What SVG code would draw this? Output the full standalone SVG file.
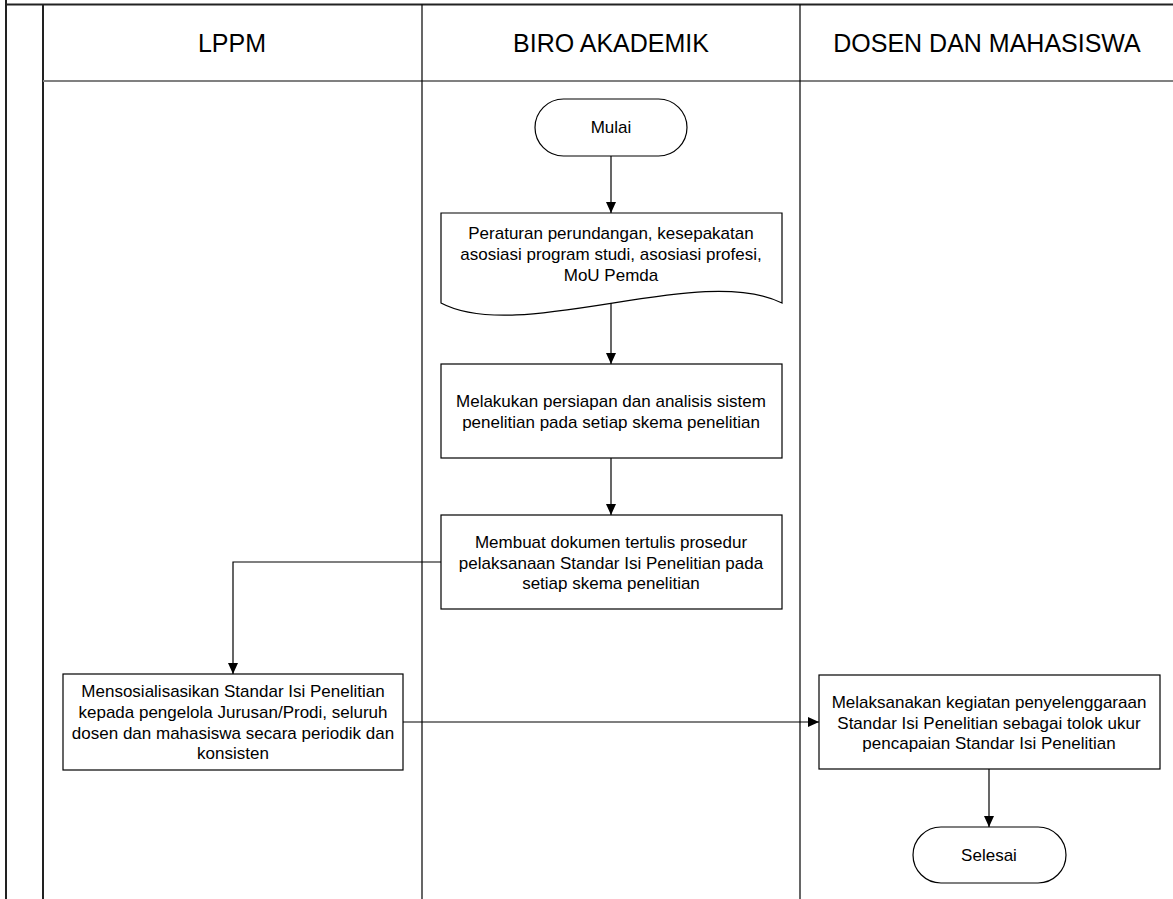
<svg xmlns="http://www.w3.org/2000/svg" width="1173" height="899" viewBox="0 0 1173 899">
<style>
.t{font-family:"Liberation Sans",Arial,sans-serif;font-size:17px;fill:#000;text-anchor:middle}
.h{font-family:"Liberation Sans",Arial,sans-serif;font-size:25px;fill:#000;text-anchor:middle}
.s{fill:#fff;stroke:#000;stroke-width:1.2}
.c{fill:none;stroke:#000;stroke-width:1.2}
</style>
<defs>
<marker id="ah" markerUnits="userSpaceOnUse" markerWidth="11" markerHeight="10" refX="11" refY="5" orient="auto">
<path d="M0,0 L11,5 L0,10 Z" fill="#000"/>
</marker>
</defs>
<rect width="1173" height="899" fill="#fff"/>
<g id="frame">
<line x1="6" y1="4.5" x2="1173" y2="4.5" stroke="#222" stroke-width="2"/>
<line x1="6" y1="0" x2="6" y2="899" stroke="#222" stroke-width="2"/>
<line x1="43" y1="4.5" x2="43" y2="899" stroke="#222" stroke-width="2"/>
<line x1="43" y1="81" x2="1173" y2="81" stroke="#808080" stroke-width="1.8"/>
<line x1="422" y1="4.5" x2="422" y2="899" stroke="#000" stroke-width="1.2"/>
<line x1="800" y1="4.5" x2="800" y2="899" stroke="#000" stroke-width="1.2"/>
</g>
<g id="lane-lppm"><text class="h" x="232" y="52">LPPM</text></g>
<g id="lane-biro"><text class="h" x="611" y="52">BIRO AKADEMIK</text></g>
<g id="lane-dosen"><text class="h" x="987" y="52">DOSEN DAN MAHASISWA</text></g>
<g id="connectors">
<line class="c" x1="611" y1="156" x2="611" y2="213" marker-end="url(#ah)"/>
<line class="c" x1="611" y1="303" x2="611" y2="364" marker-end="url(#ah)"/>
<line class="c" x1="611" y1="458" x2="611" y2="515" marker-end="url(#ah)"/>
<polyline class="c" points="441,562 233,562 233,674" marker-end="url(#ah)"/>
<line class="c" x1="403" y1="722" x2="819" y2="722" marker-end="url(#ah)"/>
<line class="c" x1="989" y1="769" x2="989" y2="827" marker-end="url(#ah)"/>
</g>
<g id="mulai">
<rect class="s" x="535" y="99" width="152" height="57" rx="28.5"/>
<text class="t" x="611" y="133">Mulai</text>
</g>
<g id="dokumen">
<path class="s" d="M441,213 H782 V303 C700,262 520,345 441,303 Z"/>
<text class="t" x="611" y="239">Peraturan perundangan, kesepakatan</text>
<text class="t" x="611" y="260">asosiasi program studi, asosiasi profesi,</text>
<text class="t" x="611" y="281">MoU Pemda</text>
</g>
<g id="persiapan">
<rect class="s" x="441" y="364" width="341" height="94"/>
<text class="t" x="611" y="407">Melakukan persiapan dan analisis sistem</text>
<text class="t" x="611" y="428">penelitian pada setiap skema penelitian</text>
</g>
<g id="prosedur">
<rect class="s" x="441" y="515" width="341" height="94"/>
<text class="t" x="611" y="548">Membuat dokumen tertulis prosedur</text>
<text class="t" x="611" y="568.5">pelaksanaan Standar Isi Penelitian pada</text>
<text class="t" x="611" y="589">setiap skema penelitian</text>
</g>
<g id="sosialisasi">
<rect class="s" x="63" y="674" width="340" height="96"/>
<text class="t" x="233" y="697">Mensosialisasikan Standar Isi Penelitian</text>
<text class="t" x="233" y="718">kepada pengelola Jurusan/Prodi, seluruh</text>
<text class="t" x="233" y="739">dosen dan mahasiswa secara periodik dan</text>
<text class="t" x="233" y="759">konsisten</text>
</g>
<g id="pelaksanaan">
<rect class="s" x="819" y="675" width="341" height="94"/>
<text class="t" x="989" y="708">Melaksanakan kegiatan penyelenggaraan</text>
<text class="t" x="989" y="729">Standar Isi Penelitian sebagai tolok ukur</text>
<text class="t" x="989" y="749">pencapaian Standar Isi Penelitian</text>
</g>
<g id="selesai">
<rect class="s" x="913" y="827" width="153" height="56" rx="28"/>
<text class="t" x="989" y="861">Selesai</text>
</g>
</svg>
